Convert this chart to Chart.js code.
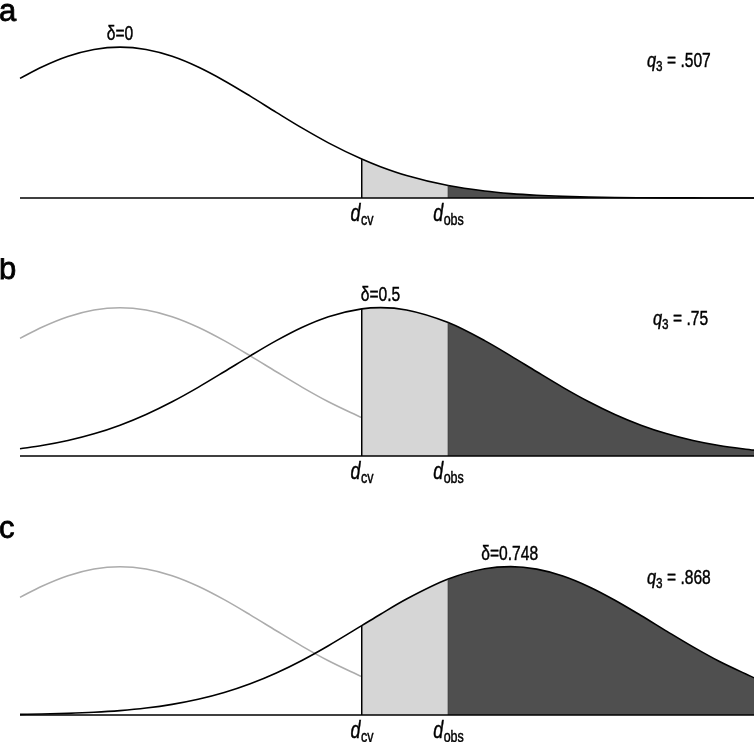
<!DOCTYPE html>
<html>
<head>
<meta charset="utf-8">
<script src="https://cdn.jsdelivr.net/npm/chart.js@4"></script>
<style>
  html, body { margin: 0; padding: 0; background: #fff; }
  #wrap { position: relative; width: 754px; height: 742px; }
  .panel { position: absolute; left: 0; width: 754px; }
</style>
</head>
<body>
<div id="wrap">
  <div class="panel" style="top:0px;height:240px"><canvas id="ca"></canvas></div>
  <div class="panel" style="top:258px;height:240px"><canvas id="cb"></canvas></div>
  <div class="panel" style="top:517px;height:225px"><canvas id="cc"></canvas></div>
</div>
<script>
// ---- data (effect size axis, relative density heights) ----
const xValues = [-0.192, -0.15, -0.1, -0.05, 0, 0.05, 0.1, 0.15, 0.2, 0.25, 0.3, 0.35, 0.4, 0.464,
                 0.5, 0.55, 0.63, 0.7, 0.75, 0.8, 0.85, 0.9, 0.95, 1.0, 1.05, 1.1, 1.15, 1.217];
const nullCurve = [0.7932, 0.8681, 0.9391, 0.9844, 1, 0.9844, 0.9391, 0.8681, 0.7776, 0.6751, 0.5679, 0.4629, 0.3657, 0.2583,
                   0.2077, 0.1493, 0.0825, 0.0459, 0.0291, 0.0179, 0.0107, 0.0061, 0.0034, 0.0019, 0.0010, 0.0005, 0.0002, 0.0001];
const curveDelta05 = [0.0493, 0.0702, 0.1040, 0.1493, 0.2077, 0.2800, 0.3657, 0.4629, 0.5679, 0.6751, 0.7776, 0.8681, 0.9391, 0.9919,
                      1, 0.9844, 0.8992, 0.7776, 0.6751, 0.5679, 0.4629, 0.3657, 0.2800, 0.2077, 0.1493, 0.1040, 0.0702, 0.0395];
const curveDelta0748 = [0.0039, 0.0063, 0.0109, 0.0183, 0.0297, 0.0467, 0.0714, 0.1056, 0.1514, 0.2103, 0.2831, 0.3694, 0.4670, 0.6023,
                        0.6793, 0.7815, 0.9162, 0.9856, 1.0, 0.9831, 0.9367, 0.8648, 0.7737, 0.6708, 0.5636, 0.4589, 0.3620, 0.2508];
const xMin = -0.192, xMax = 1.217;
const dCv = 0.464;
const dObs = 0.63;
const panelLetters = ["a", "b", "c"];
const deltas = [0, 0.5, 0.748];
const deltaLabels = ["δ=0", "δ=0.5", "δ=0.748"];
const q3Labels = [".507", ".75", ".868"];

const FONT = "'Liberation Sans', Arial, sans-serif";
const SX = 0.78; // horizontal condensing of the label text

function pts(ys, lo, hi) {
  const out = [];
  xValues.forEach((x, i) => { if (x >= lo - 1e-9 && x <= hi + 1e-9) out.push({ x: x, y: ys[i] }); });
  return out;
}
function valueAt(ys, x) {
  const i = xValues.findIndex(v => Math.abs(v - x) < 1e-9);
  return ys[i];
}

const labelPlugin = {
  id: 'labels',
  afterDatasetsDraw(chart, args, opts) {
    const ctx = chart.ctx;
    const xs = chart.scales.x, ys = chart.scales.y;
    const base = ys.getPixelForValue(0);
    function tw(text, font) { ctx.font = font; return ctx.measureText(text).width * SX; }
    function txt(text, x, y, font) {
      ctx.save(); ctx.font = font; ctx.textAlign = 'left'; ctx.textBaseline = 'alphabetic';
      ctx.translate(x, y); ctx.scale(SX, 1);
      ctx.fillText(text, 0, 0);
      ctx.lineWidth = 0.45; ctx.strokeStyle = '#000'; ctx.strokeText(text, 0, 0);
      ctx.restore();
    }
    ctx.save();
    ctx.fillStyle = '#000';
    // panel letter
    ctx.font = '31px ' + FONT;
    ctx.textAlign = 'left'; ctx.textBaseline = 'alphabetic';
    ctx.fillText(opts.letter, -1, 21);
    ctx.lineWidth = 0.8; ctx.strokeStyle = '#000'; ctx.strokeText(opts.letter, -1, 21);
    // delta label
    const dF = '20px ' + FONT;
    const dw = tw(opts.deltaLabel, dF);
    txt(opts.deltaLabel, xs.getPixelForValue(opts.delta) - dw / 2, ys.getPixelForValue(1) - 7, dF);
    // d labels
    function dLabel(xv, sub) {
      const bigF = 'italic 23px ' + FONT, subF = '16px ' + FONT;
      const w1 = tw('d', bigF), w2 = tw(sub, subF);
      const cx = xs.getPixelForValue(xv);
      const x0 = cx - (w1 + w2) / 2;
      txt('d', x0, base + 23, bigF);
      txt(sub, x0 + w1 + 0.5, base + 27, subF);
    }
    dLabel(opts.dcv, 'cv');
    dLabel(opts.dobs, 'obs');
    // q3 label
    let x = opts.qx;
    const qF = 'italic 21px ' + FONT, sF = '15px ' + FONT, nF = '20px ' + FONT;
    txt('q', x, 67, qF); x += tw('q', qF);
    txt('3', x, 71, sF); x += tw('3', sF);
    txt(' = ' + opts.q3, x, 67, nF);
    ctx.restore();
  }
};

function makePanel(id, idx, altCurve, showNull, yMax, height) {
  const lineOpts = { cubicInterpolationMode: 'monotone', pointRadius: 0, fill: false };
  const datasets = [
    // light gray region
    Object.assign({}, lineOpts, { data: pts(altCurve, dCv, dObs), borderWidth: 0, borderColor: 'rgba(0,0,0,0)',
      backgroundColor: '#d6d6d6', fill: 'origin', order: 5 }),
    // dark region
    Object.assign({}, lineOpts, { data: pts(altCurve, dObs, xMax), borderWidth: 0, borderColor: 'rgba(0,0,0,0)',
      backgroundColor: '#4f4f4f', fill: 'origin', order: 4 }),
  ];
  if (showNull) {
    datasets.push(Object.assign({}, lineOpts, { data: pts(nullCurve, xMin, dCv), borderColor: '#acacac', borderWidth: 1.5, order: 3 }));
  }
  datasets.push(Object.assign({}, lineOpts, { data: pts(altCurve, xMin, xMax), borderColor: '#000', borderWidth: 1.6, order: 1 }));
  // baseline
  datasets.push({ data: [{ x: xMin, y: 0 }, { x: xMax, y: 0 }], borderColor: '#000', borderWidth: 1.6, pointRadius: 0, order: 0 });
  // vertical line at d_cv
  datasets.push({ data: [{ x: dCv, y: 0 }, { x: dCv, y: valueAt(altCurve, dCv) }], borderColor: '#000', borderWidth: 1.5, pointRadius: 0, order: 0 });
  // edge at d_obs
  datasets.push({ data: [{ x: dObs, y: 0 }, { x: dObs, y: valueAt(altCurve, dObs) }], borderColor: '#2a2a2a', borderWidth: 1, pointRadius: 0, order: 0 });

  new Chart(document.getElementById(id), {
    type: 'line',
    data: { datasets: datasets },
    options: {
      responsive: true, maintainAspectRatio: false, animation: false,
      layout: { padding: { left: 20, right: 0, top: 17, bottom: height - 198 } },
      plugins: {
        legend: { display: false }, tooltip: { enabled: false },
        labels: { letter: panelLetters[idx], delta: deltas[idx], deltaLabel: deltaLabels[idx],
                  dcv: dCv, dobs: dObs, q3: q3Labels[idx], qx: idx === 1 ? 653 : 647 }
      },
      scales: {
        x: { type: 'linear', min: xMin, max: xMax, display: false },
        y: { min: 0, max: yMax, display: false }
      },
      elements: { line: { borderCapStyle: 'butt' } },
      clip: false
    },
    plugins: [labelPlugin]
  });
}

makePanel('ca', 0, nullCurve, false, 1.2, 240);
makePanel('cb', 1, curveDelta05, true, 1.22, 240);
makePanel('cc', 2, curveDelta0748, true, 1.22, 225);
</script>
</body>
</html>
